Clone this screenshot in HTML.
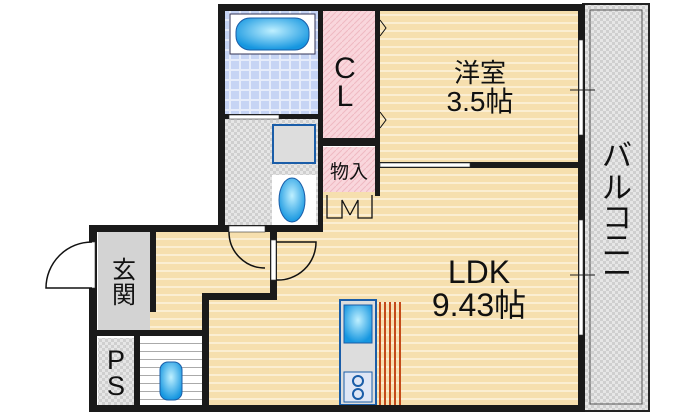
<!DOCTYPE html>
<html><head><meta charset="utf-8"><style>
html,body{margin:0;padding:0;background:#fff;width:700px;height:415px;overflow:hidden}
text{font-family:"Liberation Sans","Noto Sans CJK JP",sans-serif;fill:#111}
</style></head><body>
<svg width="700" height="415" viewBox="0 0 700 415" xmlns="http://www.w3.org/2000/svg">
<defs>
<pattern id="wood" width="10" height="8" patternUnits="userSpaceOnUse">
<rect width="10" height="8" fill="#f6dfae"/><rect y="6" width="10" height="2" fill="#fbeed2"/>
</pattern>
<pattern id="chk" width="6" height="6" patternUnits="userSpaceOnUse">
<rect width="6" height="6" fill="#e6e6e6"/><rect width="3" height="3" fill="#cfcfcf"/><rect x="3" y="3" width="3" height="3" fill="#cfcfcf"/>
</pattern>
<pattern id="pink" width="6" height="6" patternUnits="userSpaceOnUse">
<rect width="6" height="6" fill="#f9d6dc"/><path d="M0 6L6 0" stroke="#efb9c2" stroke-width="1"/>
</pattern>
<pattern id="tile" width="10" height="10" patternUnits="userSpaceOnUse">
<rect width="10" height="10" fill="#e6ecfa"/><rect x="1" y="1" width="8" height="8" fill="#c6d4f4"/>
</pattern>
<pattern id="wl" width="10" height="8" patternUnits="userSpaceOnUse">
<rect width="10" height="8" fill="#fff"/><rect y="7" width="10" height="1" fill="#aaa"/>
</pattern>
<radialGradient id="blue" cx="0.5" cy="0.4" r="0.6"><stop offset="0" stop-color="#bff0ff"/><stop offset="1" stop-color="#1596e0"/></radialGradient>
</defs>
<!-- balcony -->
<rect x="583" y="4" width="66" height="407" fill="url(#chk)" stroke="#222" stroke-width="2"/>
<rect x="590" y="10" width="52" height="394" fill="url(#chk)" stroke="#555" stroke-width="1"/>
<!-- floors -->
<rect x="380" y="10" width="198" height="153" fill="url(#wood)"/>
<rect x="320" y="168" width="258" height="238" fill="url(#wood)"/>
<rect x="205" y="232" width="373" height="174" fill="url(#wood)"/>
<rect x="150" y="232" width="125" height="100" fill="url(#wood)"/>
<rect x="225" y="10" width="95" height="105" fill="url(#tile)"/>
<rect x="230" y="14" width="85" height="40" fill="#fff" stroke="#335" stroke-width="1"/>
<rect x="236" y="18" width="73" height="32" rx="14" fill="url(#blue)" stroke="#1a5da8"/>
<rect x="225" y="118" width="95" height="108" fill="url(#chk)"/>
<rect x="273" y="125" width="42" height="38" fill="#ddd" stroke="#1a5da8" stroke-width="2"/>
<rect x="272" y="175" width="44" height="50" fill="#fff"/>
<ellipse cx="292" cy="200" rx="13" ry="22" fill="url(#blue)" stroke="#1a5da8"/>
<rect x="323" y="10" width="52" height="128" fill="url(#pink)"/>
<rect x="323" y="147" width="52" height="45" fill="url(#pink)"/>
<rect x="98" y="232" width="52" height="98" fill="#d3d3d3"/>
<rect x="98" y="338" width="37" height="67" fill="url(#chk)"/>
<rect x="140" y="335" width="62" height="70" fill="url(#wl)"/>
<rect x="160" y="362" width="22" height="38" rx="8" fill="url(#blue)" stroke="#1a5da8"/>
<!-- kitchen -->
<rect x="340" y="300" width="36" height="105" fill="#ddd" stroke="#1a5da8" stroke-width="2"/>
<rect x="344" y="305" width="28" height="38" fill="url(#blue)" stroke="#1a5da8"/>
<rect x="344" y="372" width="28" height="30" fill="#dfe6f5" stroke="#1a5da8"/>
<circle cx="358" cy="381" r="5" fill="none" stroke="#1a5da8" stroke-width="2"/>
<circle cx="358" cy="394" r="5" fill="none" stroke="#1a5da8" stroke-width="2"/>
<g fill="#c44a1a"><rect x="379" y="302" width="2" height="103"/><rect x="384" y="302" width="2" height="103"/><rect x="389" y="302" width="2" height="103"/><rect x="394" y="302" width="2" height="103"/><rect x="399" y="302" width="2" height="103"/></g>
<!-- walls -->
<g fill="#1a1a1a">
<rect x="218" y="4" width="367" height="7"/>
<rect x="218" y="4" width="7" height="228"/>
<rect x="578" y="4" width="7" height="408"/>
<rect x="318" y="4" width="5" height="228"/>
<rect x="375" y="4" width="5" height="192"/>
<rect x="323" y="138" width="55" height="8"/>
<rect x="225" y="114" width="95" height="5"/>
<rect x="375" y="162" width="210" height="6"/>
<rect x="90" y="225" width="232" height="7"/>
<rect x="89" y="225" width="8" height="187"/>
<rect x="89" y="405" width="496" height="7"/>
<rect x="150" y="232" width="6" height="80"/>
<rect x="97" y="330" width="108" height="6"/>
<rect x="134" y="336" width="6" height="70"/>
<rect x="202" y="293" width="75" height="7"/>
<rect x="202" y="293" width="7" height="113"/>
<rect x="270" y="225" width="7" height="75"/>
</g>
<!-- windows / openings -->
<rect x="380" y="163" width="90" height="4" fill="#fff" stroke="#333" stroke-width="0.6"/>
<rect x="579" y="40" width="4" height="95" fill="#fff" stroke="#333" stroke-width="0.6"/>
<rect x="579" y="220" width="4" height="115" fill="#fff" stroke="#333" stroke-width="0.6"/>
<rect x="229" y="226" width="36" height="6" fill="#fff" stroke="#333" stroke-width="0.6"/>
<rect x="229" y="115" width="50" height="4" fill="#fff" stroke="#333" stroke-width="0.6"/>
<rect x="90" y="242" width="5" height="46" fill="#fff" stroke="#333" stroke-width="0.6"/>
<path d="M92 242 A46 46 0 0 0 46 288 L92 288" fill="#fff" stroke="#111" stroke-width="1.5"/>
<path d="M229 232 A36 36 0 0 0 265 268" fill="none" stroke="#111" stroke-width="1.5"/>
<rect x="271" y="240" width="5" height="40" fill="#fff" stroke="#333" stroke-width="0.6"/>
<path d="M276 242 L316 242 A38 38 0 0 1 276 280" fill="none" stroke="#111" stroke-width="1.5"/>
<path d="M327 195 L327 218 L342 218 L342 200 L350 215 M350 215 L358 200 L358 218 L372 218 L372 195" fill="none" stroke="#111" stroke-width="1.3"/>
<path d="M380 20 L386 28 L380 36 M380 112 L386 120 L380 128" fill="none" stroke="#111"/>
<path d="M570 90 L595 90 M570 275 L595 275" stroke="#222"/>
<!-- labels -->
<text x="345" y="78" font-size="30" text-anchor="middle">C</text>
<text x="345" y="106" font-size="30" text-anchor="middle">L</text>
<text x="349" y="178" font-size="19" text-anchor="middle">物入</text>
<text x="480" y="82" font-size="26" text-anchor="middle">洋室</text>
<text x="480" y="111" font-size="28" text-anchor="middle">3.5帖</text>
<text x="479" y="283" font-size="32" text-anchor="middle">LDK</text>
<text x="479" y="316" font-size="32" text-anchor="middle">9.43帖</text>
<text x="124" y="278" font-size="24" text-anchor="middle">玄</text>
<text x="124" y="303" font-size="24" text-anchor="middle">関</text>
<text x="116" y="369" font-size="27" text-anchor="middle">P</text>
<text x="116" y="395" font-size="27" text-anchor="middle">S</text>
<g font-size="30" text-anchor="middle">
<text x="617" y="166">バ</text><text x="617" y="198">ル</text><text x="617" y="228">コ</text><text x="617" y="256">ニ</text><text x="617" y="284">ー</text>
</g>
</svg>
</body></html>
